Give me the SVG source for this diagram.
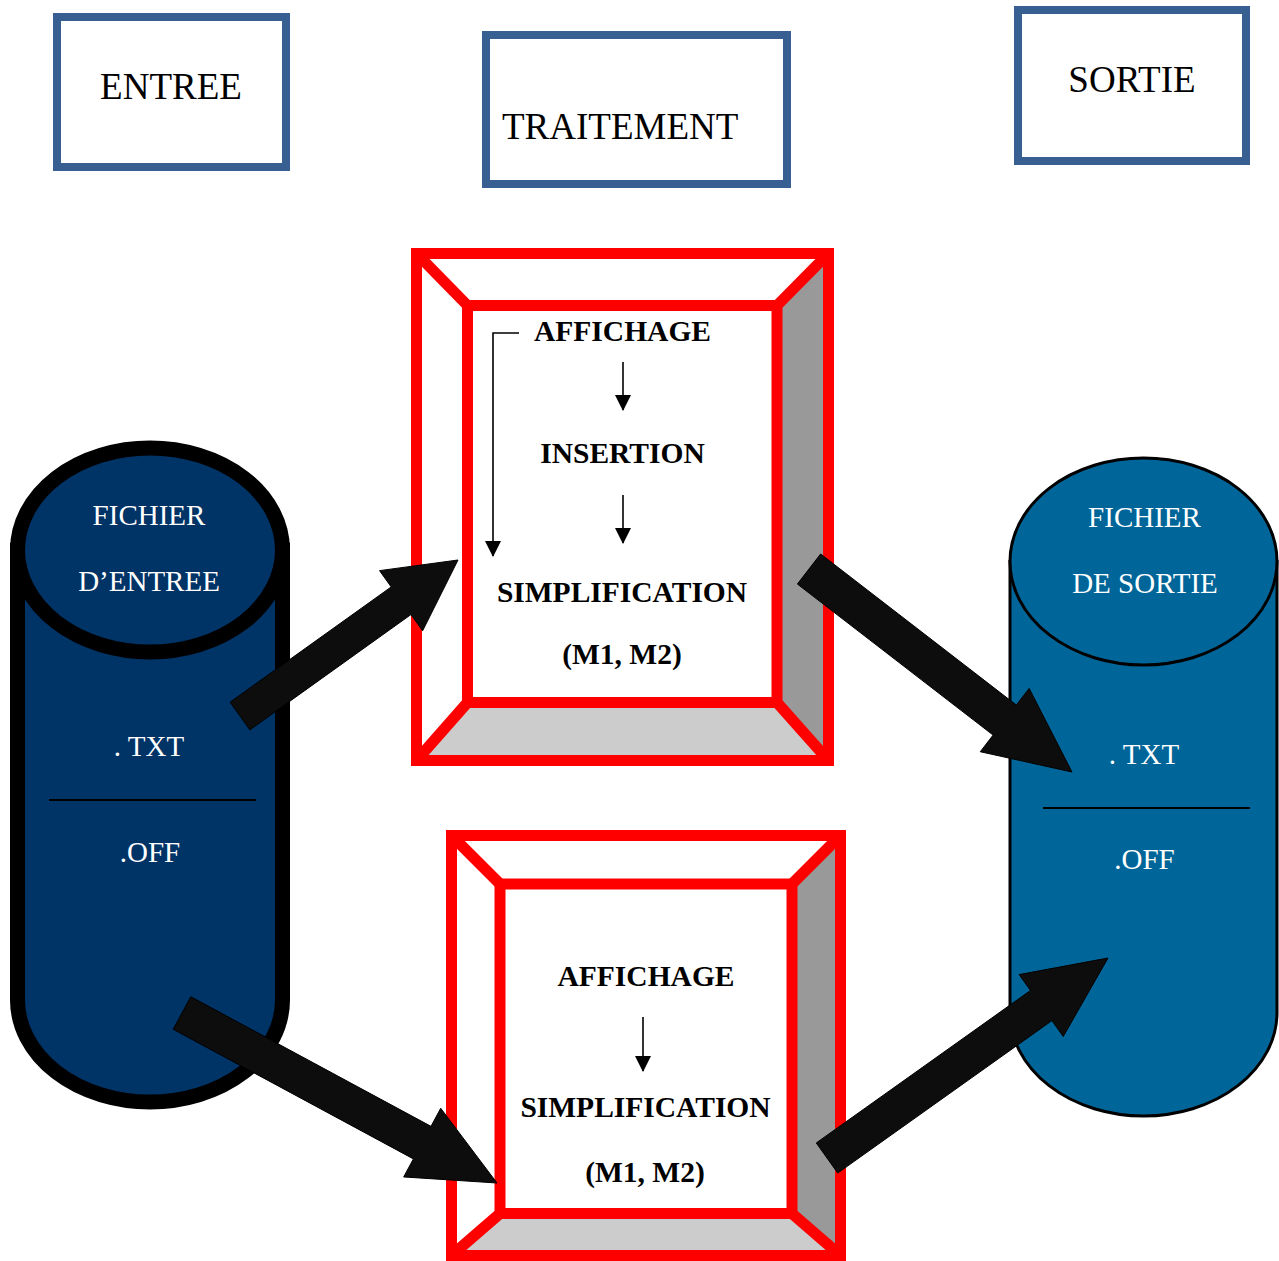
<svg xmlns="http://www.w3.org/2000/svg" width="1279" height="1261" viewBox="0 0 1279 1261">
<style>
.hdr{fill:#fff;stroke:#375f92;stroke-width:8}
.hdrt{font-family:"Liberation Serif","Times New Roman",serif;font-size:37px;fill:#000}
.red{stroke:#ff0000;stroke-width:11;fill:none}
.inner{fill:#fff;stroke:#ff0000;stroke-width:11}
.rf{fill:#999999}
.bf{fill:#cccccc}
.bt{font-family:"Liberation Serif","Times New Roman",serif;font-size:29.5px;font-weight:bold;fill:#000;text-anchor:middle}
.ct{font-family:"Liberation Serif","Times New Roman",serif;font-size:29px;fill:#fff;text-anchor:middle}
.sm{stroke:#000;stroke-width:1.6;fill:none}
.big{fill:#0d0d0d;stroke:#000;stroke-width:1}
</style>
<defs>
<marker id="dn" viewBox="0 0 16 16" refX="15" refY="8" markerWidth="16" markerHeight="16" markerUnits="userSpaceOnUse" orient="auto">
<path d="M0,0 L16,8 L0,16 Z" fill="#000"/>
</marker>
</defs>
<rect width="1279" height="1261" fill="#fff"/>

<g id="entree">
<rect class="hdr" x="57" y="17" width="229" height="150"/>
<text class="hdrt" x="171" y="99" text-anchor="middle">ENTREE</text>
</g>
<g id="traitement">
<rect class="hdr" x="486" y="35" width="301" height="149"/>
<text class="hdrt" x="502" y="139">TRAITEMENT</text>
</g>
<g id="sortie">
<rect class="hdr" x="1018" y="10" width="228" height="151"/>
<text class="hdrt" x="1132" y="92" text-anchor="middle">SORTIE</text>
</g>

<g id="fichier-entree">
<path d="M17.5,550 L17.5,1000 A132.5,102 0 0 0 282.5,1000 L282.5,550 Z" fill="#003366" stroke="#000" stroke-width="15"/>
<ellipse cx="150" cy="550" rx="132.5" ry="102" fill="#003366" stroke="#000" stroke-width="15"/>
<text class="ct" x="149" y="525">FICHIER</text>
<text class="ct" x="149" y="591">D’ENTREE</text>
<text class="ct" x="149" y="756">. TXT</text>
<line x1="49" y1="800" x2="256" y2="800" stroke="#000" stroke-width="2"/>
<text class="ct" x="150" y="862">.OFF</text>
</g>

<g id="fichier-sortie">
<path d="M1010,561.5 L1010,1012.5 A133.5,103.5 0 0 0 1277,1012.5 L1277,561.5 Z" fill="#006699" stroke="#000" stroke-width="3"/>
<ellipse cx="1143.5" cy="561.5" rx="133.5" ry="103.5" fill="#006699" stroke="#000" stroke-width="3"/>
<text class="ct" x="1144.5" y="527">FICHIER</text>
<text class="ct" x="1145" y="593">DE SORTIE</text>
<text class="ct" x="1144" y="764">. TXT</text>
<line x1="1043" y1="808" x2="1250" y2="808" stroke="#000" stroke-width="2"/>
<text class="ct" x="1144.5" y="869">.OFF</text>
</g>

<g id="traitement-1">
<polygon class="rf" points="828.5,253.5 777,305.5 777,702.5 828.5,760.5"/>
<polygon class="bf" points="416.5,760.5 467.5,702.5 777,702.5 828.5,760.5"/>
<path class="red" d="M416.5,253.5 L467.5,305.5 M828.5,253.5 L777,305.5 M416.5,760.5 L467.5,702.5 M828.5,760.5 L777,702.5"/>
<rect class="red" x="416.5" y="253.5" width="412" height="507"/>
<rect class="inner" x="467.5" y="305.5" width="309.5" height="397"/>
<text class="bt" x="622.5" y="341">AFFICHAGE</text>
<line class="sm" x1="623" y1="362" x2="623" y2="410" marker-end="url(#dn)"/>
<text class="bt" x="622.5" y="463">INSERTION</text>
<line class="sm" x1="623" y1="495" x2="623" y2="543" marker-end="url(#dn)"/>
<text class="bt" x="622" y="602">SIMPLIFICATION</text>
<text class="bt" x="622" y="664">(M1, M2)</text>
<polyline class="sm" points="519,333 493,333 493,556" marker-end="url(#dn)"/>
</g>

<g id="traitement-2">
<polygon class="rf" points="840.5,835.5 792,884 792,1213.5 840.5,1255.5"/>
<polygon class="bf" points="451.5,1255.5 500,1213.5 792,1213.5 840.5,1255.5"/>
<path class="red" d="M451.5,835.5 L500,884 M840.5,835.5 L792,884 M451.5,1255.5 L500,1213.5 M840.5,1255.5 L792,1213.5"/>
<rect class="red" x="451.5" y="835.5" width="389" height="420"/>
<rect class="inner" x="500" y="884" width="292" height="329.5"/>
<text class="bt" x="646" y="986">AFFICHAGE</text>
<line class="sm" x1="643" y1="1017" x2="643" y2="1071" marker-end="url(#dn)"/>
<text class="bt" x="645.5" y="1117">SIMPLIFICATION</text>
<text class="bt" x="645" y="1182">(M1, M2)</text>
</g>

<g id="connectors">
<polygon class="big" points="249.89,729.82 410.97,614.55 422.61,630.82 458,560 379.55,570.64 391.19,586.91 230.11,702.18"/>
<polygon class="big" points="797.39,584.04 993.10,735.10 980.27,751.72 1072,772 1029.15,688.40 1016.32,705.02 820.61,553.96"/>
<polygon class="big" points="173.21,1029.28 413.41,1158.91 403.68,1176.95 497,1183 440.72,1108.31 430.99,1126.35 190.79,996.72"/>
<polygon class="big" points="837.73,1173.07 1051.92,1020.62 1063.23,1036.51 1108,958 1019.15,974.59 1030.46,990.48 816.27,1142.93"/>
</g>
</svg>
